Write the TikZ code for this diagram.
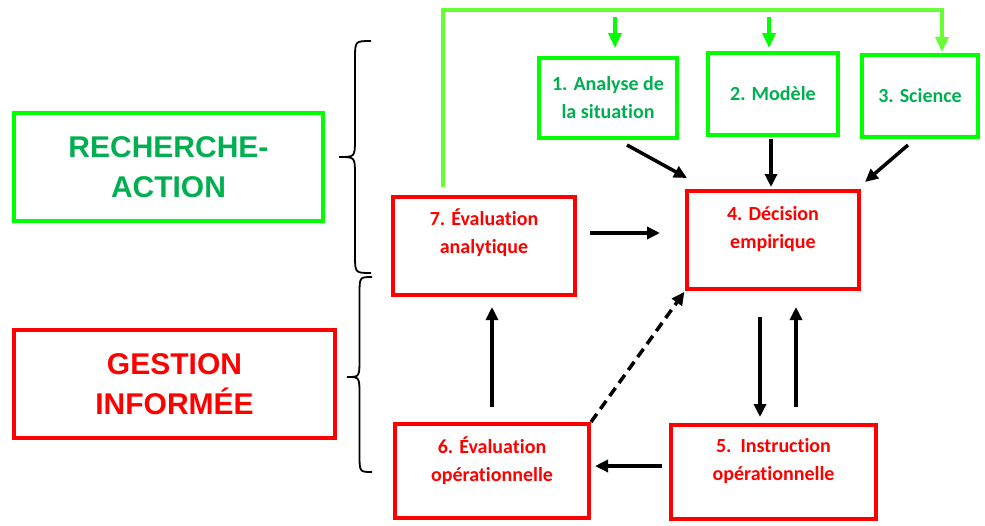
\documentclass[tikz,border=0pt]{standalone}
\usepackage{fontspec}
\setmainfont{Carlito}[Ligatures=NoCommon]
\newfontfamily\arialfont{Liberation Sans}
\usepackage{xcolor}
\usetikzlibrary{arrows.meta}
\definecolor{boxgreen}{RGB}{0,255,0}
\definecolor{railgreen}{RGB}{102,255,51}
\definecolor{textgreen}{RGB}{0,176,80}
\definecolor{boxred}{RGB}{255,0,0}
\tikzset{>={Triangle[length=13pt,width=12pt]}}
\newcommand{\curlybrace}[5]{
   % #1 end x, #2 top y, #3 tip y, #4 bottom y, #5 tip x
   \draw[line width=1.8]
    (#1,#2) .. controls ({(#1+#5)/2},#2) .. ({(#1+#5)/2},{#2+18})
    -- ({(#1+#5)/2},{#3-18}) .. controls ({(#1+#5)/2},#3) .. (#5,#3)
    .. controls ({(#1+#5)/2},#3) .. ({(#1+#5)/2},{#3+18})
    -- ({(#1+#5)/2},{#4-18}) .. controls ({(#1+#5)/2},#4) .. (#1,#4);
}

\begin{document}
\begin{tikzpicture}[x=1pt,y=-1pt,
    greenbox/.style={draw=boxgreen, line width=4, text=textgreen, align=center,
        inner sep=0, font=\bfseries\fontsize{20}{28}\selectfont},
    redbox/.style={draw=boxred, line width=4, inner sep=0},
    redtext/.style={text=boxred, align=center, font=\bfseries\fontsize{20}{28}\selectfont},
    bigbox/.style={line width=4, inner sep=0, align=center,
        font=\arialfont\bfseries\fontsize{30}{40}\selectfont},
    arrow/.style={line width=3.5, ->},
    greenarrow/.style={line width=3.5, -{Triangle[length=15pt,width=13pt]}}]
    \useasboundingbox (0,0) rectangle (985,525);

    % Sides
    \node[bigbox, draw=boxgreen, text=textgreen, minimum width=309, minimum height=108]
        (recherche) at (168.5,167) {RECHERCHE-\\ACTION};
    \node[bigbox, draw=boxred, text=boxred, minimum width=321, minimum height=108]
        (gestion) at (174.5,384) {GESTION\\INFORMÉE};
    \curlybrace{371}{41}{157}{273}{339}
    \curlybrace{372}{277}{377}{472}{347}

    % Steps
    \node[greenbox, minimum width=138, minimum height=80] (analyse) at (608,98) {1. Analyse de\\la situation};
    \node[greenbox, minimum width=130, minimum height=82] (modele) at (773,94) {2. Modèle};
    \node[greenbox, minimum width=116, minimum height=82] (science) at (920,96) {3. Science};

    \node[redbox, minimum width=172, minimum height=98] (decision) at (773,240) {};
    \node[redtext] (decisiontext) at (773,229) {4. Décision\\empirique};
    \node[redbox, minimum width=205, minimum height=94] (instruction) at (773.5,472) {};
    \node[redtext] (instructiontext) at (773.5,461) {5.\ \ Instruction\\opérationnelle};
    \node[redbox, minimum width=194, minimum height=94] (evalop) at (492,471) {};
    \node[redtext] (evaloptext) at (492,461) {6. Évaluation\\opérationnelle};
    \node[redbox, minimum width=182, minimum height=98] (evalana) at (484,246) {};
    \node[redtext] (evalanatext) at (484,233) {7. Évaluation\\analytique};

    % Feedback rail
    \coordinate (railleft) at (443,10);
    \coordinate (railright) at (942,10);
    \draw[greenarrow, railgreen, shorten <=8, shorten >=1]
        (evalana.north -| railleft) -- (railleft) -- (railright) -- (science.north -| railright);
    \draw[greenarrow, boxgreen, shorten <=7, shorten >=8]
        ([xshift=7pt]analyse.north |- railleft) -- ([xshift=7pt]analyse.north);
    \draw[greenarrow, boxgreen, shorten <=7, shorten >=3]
        ([xshift=-4pt]modele.north |- railleft) -- ([xshift=-4pt]modele.north);

    % Links
    \draw[arrow] ([xshift=19pt,yshift=-5pt]analyse.south) -- ([xshift=2pt,yshift=11pt]decision.north west);
    \draw[arrow, shorten <=2, shorten >=2] ([xshift=-2pt]modele.south) -- ([xshift=-2pt]modele.south |- decision.north);
    \draw[arrow] ([xshift=-12pt,yshift=-6pt]science.south) -- ([xshift=4pt,yshift=7pt]decision.north east);
    \draw[arrow, shorten <=13, shorten >=25] ([yshift=13pt]evalana.east) -- ([yshift=13pt]evalana.east -| decision.west);
    \draw[arrow, shorten <=26, shorten >=6] ([xshift=-13pt]decision.south) -- ([xshift=-13pt]decision.south |- instruction.north);
    \draw[arrow, shorten <=16, shorten >=16] ([xshift=23pt]decision.south |- instruction.north) -- ([xshift=23pt]decision.south);
    \draw[arrow, shorten <=7, shorten >=4] ([yshift=6pt]instruction.west) -- ([yshift=6pt]instruction.west -| evalop.east);
    \draw[arrow, shorten <=15, shorten >=10] (evalop.north) -- (evalop.north |- evalana.south);
    \draw[arrow, dashed, dash pattern=on 10pt off 6pt, shorten >=1] (evalop.north east) -- (decision.south west);
\end{tikzpicture}
\end{document}
